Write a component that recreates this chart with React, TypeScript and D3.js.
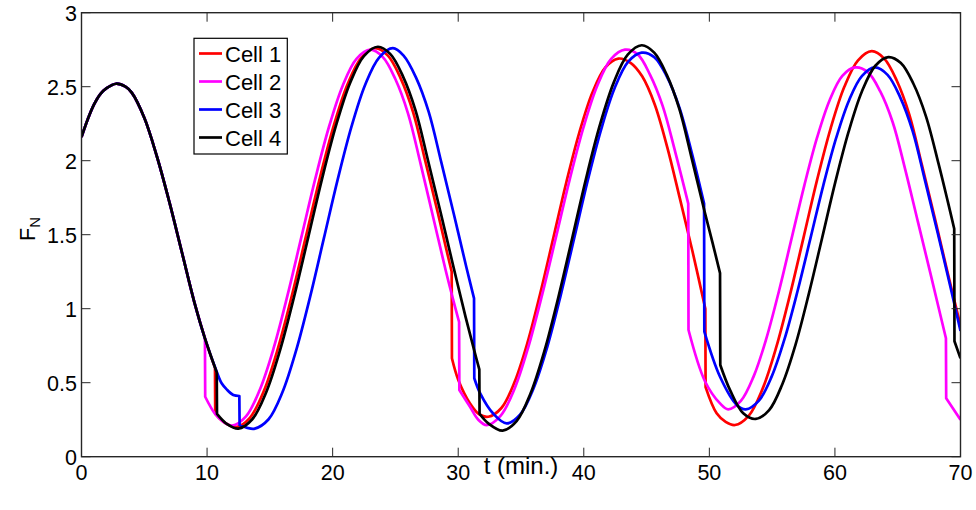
import React from "react";
import * as d3 from "d3";

type Pt = [number, number];

// Shared trajectory before the cells diverge (t in min, F_N)
const commonStart: Pt[] = [
  [0, 2.16], [0.5, 2.28], [1, 2.38], [1.5, 2.45], [2, 2.49], [2.75, 2.52], [3.5, 2.5],
  [4, 2.46], [5, 2.29], [6, 2.03], [7, 1.72], [8, 1.38], [9, 1.04], [9.83, 0.8],
];

const cell1: Pt[] = [
  [10.63, 0.6], [10.65, 0.29], [11.4, 0.23], [12.3, 0.2],
  [13.41, 0.263], [14.52, 0.444], [15.63, 0.728], [16.74, 1.084], [17.85, 1.48], [18.96, 1.876],
  [20.07, 2.232], [21.18, 2.515], [22.29, 2.697], [23.4, 2.76],
  [24.4, 2.71], [25.4, 2.56], [26.4, 2.33], [27.4, 1.99], [28.4, 1.64], [29.0, 1.42], [29.48, 1.25],
  [29.5, 0.665], [30.0, 0.52], [30.94, 0.36], [31.7, 0.285], [32.4, 0.27],
  [33.44, 0.329], [34.47, 0.501], [35.51, 0.769], [36.54, 1.106], [37.58, 1.48], [38.61, 1.854],
  [39.65, 2.191], [40.68, 2.459], [41.72, 2.631], [42.75, 2.69],
  [43.75, 2.66], [44.65, 2.57], [45.65, 2.38], [46.65, 2.09], [47.65, 1.745], [48.65, 1.39], [49.68, 1.0],
  [49.7, 0.47], [50.58, 0.293], [51.3, 0.235], [52.04, 0.214],
  [53.13, 0.276], [54.22, 0.455], [55.31, 0.735], [56.4, 1.087], [57.49, 1.477], [58.57, 1.867],
  [59.66, 2.219], [60.75, 2.499], [61.84, 2.678], [62.93, 2.74],
  [63.93, 2.69], [64.93, 2.54], [65.93, 2.31], [66.93, 1.97], [67.93, 1.62], [68.93, 1.26], [70, 0.885],
];

const cell2: Pt[] = [
  [9.85, 0.405], [10.63, 0.29], [11.3, 0.235], [12.0, 0.21],
  [13.1, 0.272], [14.2, 0.453], [15.3, 0.733], [16.4, 1.088], [17.5, 1.48], [18.6, 1.872],
  [19.7, 2.226], [20.8, 2.507], [21.9, 2.688], [23.0, 2.75],
  [24.0, 2.7], [25.0, 2.55], [26.0, 2.32], [27.0, 1.98], [28.0, 1.62], [29.0, 1.26], [29.6, 1.06], [30.07, 0.91],
  [30.09, 0.45], [30.94, 0.338], [31.6, 0.25], [32.27, 0.214],
  [33.37, 0.276], [34.47, 0.456], [35.57, 0.737], [36.67, 1.09], [37.78, 1.482], [38.88, 1.874],
  [39.98, 2.227], [41.08, 2.508], [42.18, 2.688], [43.28, 2.75],
  [44.28, 2.72], [45.28, 2.58], [46.28, 2.37], [47.28, 2.06], [48.32, 1.71],
  [48.34, 0.856], [49.65, 0.51], [50.85, 0.36], [51.5, 0.32],
  [52.51, 0.377], [53.52, 0.541], [54.53, 0.796], [55.54, 1.118], [56.55, 1.475], [57.56, 1.832],
  [58.57, 2.154], [59.58, 2.409], [60.59, 2.573], [61.6, 2.63],
  [62.6, 2.6], [63.6, 2.47], [64.6, 2.26], [65.6, 1.94], [66.6, 1.59], [67.6, 1.24], [68.84, 0.8],
  [68.86, 0.395], [70, 0.25],
];

const cell3: Pt[] = [
  [10.77, 0.574], [11.16, 0.496], [11.56, 0.455], [12.09, 0.417], [12.57, 0.41],
  [12.59, 0.214], [13.2, 0.195], [13.8, 0.19],
  [14.9, 0.253], [16.0, 0.435], [17.1, 0.72], [18.2, 1.078], [19.3, 1.475], [20.4, 1.872],
  [21.5, 2.23], [22.6, 2.515], [23.7, 2.697], [24.8, 2.76],
  [25.65, 2.71], [26.65, 2.56], [27.65, 2.33], [28.65, 1.99], [29.65, 1.64], [30.65, 1.28], [31.26, 1.07],
  [31.28, 0.53], [31.74, 0.43], [32.8, 0.29], [33.86, 0.225],
  [34.94, 0.286], [36.01, 0.464], [37.09, 0.741], [38.16, 1.09], [39.24, 1.478], [40.31, 1.865],
  [41.39, 2.214], [42.46, 2.491], [43.54, 2.669], [44.61, 2.73],
  [45.61, 2.7], [46.61, 2.57], [47.61, 2.36], [48.61, 2.05], [49.58, 1.71],
  [49.6, 0.845], [50.85, 0.54], [52.18, 0.35], [52.9, 0.32],
  [53.93, 0.377], [54.96, 0.541], [55.99, 0.796], [57.02, 1.118], [58.05, 1.475], [59.07, 1.832],
  [60.1, 2.154], [61.13, 2.409], [62.16, 2.573], [63.19, 2.63],
  [64.19, 2.58], [65.19, 2.43], [66.19, 2.2], [67.19, 1.86], [68.19, 1.51], [69.19, 1.15], [70, 0.85],
];

const cell4: Pt[] = [
  [10.77, 0.57], [10.79, 0.29], [11.6, 0.22], [12.49, 0.19],
  [13.6, 0.253], [14.71, 0.436], [15.82, 0.722], [16.93, 1.081], [18.05, 1.48], [19.16, 1.879],
  [20.27, 2.238], [21.38, 2.524], [22.49, 2.707], [23.6, 2.77],
  [24.6, 2.72], [25.6, 2.57], [26.6, 2.34], [27.6, 2.0], [28.6, 1.65], [29.6, 1.29], [30.6, 0.94],
  [31.3, 0.71], [31.68, 0.59],
  [31.7, 0.29], [32.4, 0.225], [33.54, 0.176],
  [34.65, 0.24], [35.75, 0.425], [36.86, 0.713], [37.97, 1.076], [39.08, 1.478], [40.18, 1.88],
  [41.29, 2.243], [42.4, 2.531], [43.5, 2.716], [44.61, 2.78],
  [45.61, 2.73], [46.61, 2.58], [47.61, 2.35], [48.61, 2.01], [49.61, 1.66], [50.3, 1.43], [50.85, 1.24],
  [50.87, 0.62], [51.65, 0.45], [52.7, 0.293], [53.7, 0.255],
  [54.76, 0.315], [55.81, 0.49], [56.87, 0.759], [57.92, 1.1], [58.98, 1.478], [60.03, 1.855],
  [61.09, 2.196], [62.14, 2.466], [63.2, 2.64], [64.25, 2.7],
  [65.25, 2.66], [66.25, 2.52], [67.25, 2.3], [68.25, 1.98], [69.0, 1.72], [69.5, 1.54],
  [69.52, 0.78], [70, 0.665],
];

const seriesNames = ["Cell 1", "Cell 2", "Cell 3", "Cell 4"];
const seriesColors = ["#ff0000", "#ff00ff", "#0000ff", "#000000"];
const seriesData = [cell1, cell2, cell3, cell4];

const xTicks = [0, 10, 20, 30, 40, 50, 60, 70];
const yTicks = [0, 0.5, 1, 1.5, 2, 2.5, 3];
const yTickLabels = ["0", "0.5", "1", "1.5", "2", "2.5", "3"];

const W = 976;
const H = 510;
const L = 81.5, R = 960.5, T = 12.7, B = 456.7;
const FONT = "'Liberation Sans', Arial, Helvetica, sans-serif";

export default function App() {
  const x = d3.scaleLinear().domain([0, 70]).range([L, R]);
  const y = d3.scaleLinear().domain([0, 3]).range([B, T]);
  const line = d3
    .line<Pt>()
    .x((d) => x(d[0]))
    .y((d) => y(d[1]))
    .curve(d3.curveCatmullRom.alpha(0.5));

  // split at jumps (consecutive samples almost at the same time) and join with straight lines
  const buildPath = (pts: Pt[]) => {
    const segs: Pt[][] = [];
    let cur: Pt[] = [];
    pts.forEach((p, i) => {
      if (i > 0 && p[0] - pts[i - 1][0] < 0.05) {
        segs.push(cur);
        cur = [];
      }
      cur.push(p);
    });
    segs.push(cur);
    return segs
      .map((s, i) => {
        const d = line(s) || "";
        return i === 0 ? d : "L" + d.slice(1);
      })
      .join("");
  };

  const axisColor = "#262626";
  const tickLen = 9;

  return (
    <svg
      width={W}
      height={H}
      style={{ position: "absolute", left: 0, top: 0, background: "#fff" }}
      fontFamily={FONT}
    >
      <rect x={0} y={0} width={W} height={H} fill="#fff" />
      <defs>
        <clipPath id="plotclip">
          <rect x={L} y={T - 5} width={R - L} height={B - T + 5} />
        </clipPath>
      </defs>
      <g clipPath="url(#plotclip)">
        {seriesData.map((s, i) => (
          <path
            key={seriesNames[i]}
            d={buildPath([...commonStart, ...s])}
            fill="none"
            stroke={seriesColors[i]}
            strokeWidth={2.7}
            strokeLinejoin="round"
          />
        ))}
      </g>
      {/* frame */}
      <rect x={L} y={T} width={R - L} height={B - T} fill="none" stroke={axisColor} strokeWidth={1.4} />
      {xTicks.map((t) => (
        <g key={"xt" + t}>
          <line x1={x(t)} x2={x(t)} y1={B} y2={B - tickLen} stroke={axisColor} strokeWidth={1} />
          <line x1={x(t)} x2={x(t)} y1={T} y2={T + tickLen} stroke={axisColor} strokeWidth={1} />
          <text x={x(t)} y={480} textAnchor="middle" fontSize={21.5} fill="#000">
            {t}
          </text>
        </g>
      ))}
      {yTicks.map((v, i) => (
        <g key={"yt" + v}>
          <line x1={L} x2={L + tickLen} y1={y(v)} y2={y(v)} stroke={axisColor} strokeWidth={1} />
          <line x1={R} x2={R - tickLen} y1={y(v)} y2={y(v)} stroke={axisColor} strokeWidth={1} />
          <text x={77} y={y(v) + 8} textAnchor="end" fontSize={21.5} fill="#000">
            {yTickLabels[i]}
          </text>
        </g>
      ))}
      {/* axis labels */}
      <text x={521} y={474} textAnchor="middle" fontSize={24} fill="#000">
        t (min.)
      </text>
      <text transform="translate(35,229) rotate(-90)" textAnchor="middle" fontSize={21.5} fill="#000">
        F
        <tspan fontSize={15} dy={5}>N</tspan>
      </text>
      {/* legend */}
      <g>
        <rect x={194} y={38.3} width={93.3} height={115.7} fill="#fff" stroke="#000" strokeWidth={1.2} />
        {seriesNames.map((n, i) => {
          const cy = 53.5 + i * 28;
          return (
            <g key={"lg" + n}>
              <line x1={199} x2={222} y1={cy} y2={cy} stroke={seriesColors[i]} strokeWidth={2.7} />
              <text x={225} y={cy + 8} fontSize={22} fill="#000">
                {n}
              </text>
            </g>
          );
        })}
      </g>
    </svg>
  );
}
